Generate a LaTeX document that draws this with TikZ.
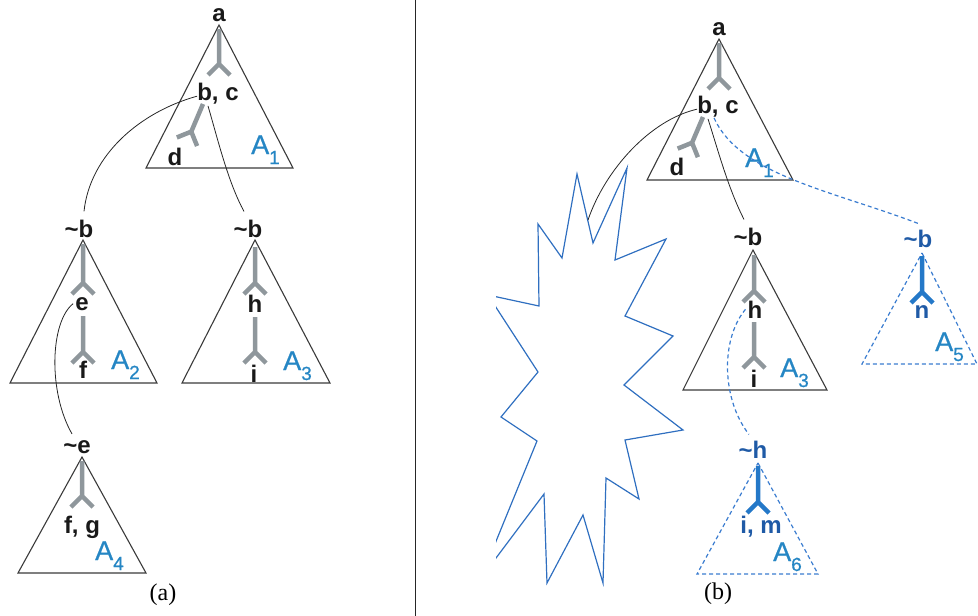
\documentclass[tikz,border=0pt]{standalone}
\usepackage{fontspec}
\setmainfont{Liberation Sans}
\newfontfamily\capfont{Liberation Serif}
\newfontfamily\afont[FakeBold=0.7]{Liberation Sans}
\definecolor{stemgray}{HTML}{8F979C}
\definecolor{alabel}{HTML}{2586C4}
\definecolor{dblue}{HTML}{1F5AA6}
\definecolor{sblue}{HTML}{2478C8}
\definecolor{dashblue}{HTML}{3A7CD0}
\definecolor{starblue}{HTML}{2F6FC0}
\definecolor{triline}{HTML}{3A3A3A}
\tikzset{
 tri/.style={draw=triline, line width=1.1pt, line join=miter},
 dtri/.style={draw=dashblue, line width=1.2pt, dash pattern=on 4pt off 3pt},
 stemline/.style={draw=stemgray, line width=4.5pt},
 bstem/.style={draw=sblue, line width=4.5pt},
 lbl/.style={inner sep=0pt, anchor=base, font=\fontsize{24}{24}\selectfont\bfseries, text=black!90},
 blbl/.style={lbl, text=dblue},
 alab/.style={inner sep=0pt, anchor=base west, text=alabel, font=\afont\fontsize{27}{27}\selectfont},
 conn/.style={draw=black!85, line width=0.8pt},
 dconn/.style={draw=dashblue, line width=1.2pt, dash pattern=on 4pt off 3pt},
 starline/.style={draw=starblue, line width=1.2pt, line join=miter},
 capt/.style={inner sep=0pt, anchor=base, font=\capfont\fontsize{24}{24}\selectfont},
}
\newcommand\forkY[5]{%
 \draw[#4, rotate around={#5:(#1,#2)}] (#1,#2) -- (#1,#2+#3) (#1-11,#2+#3+11) -- (#1,#2+#3) -- (#1+11,#2+#3+11);
}
\newcommand\subA[1]{A\raisebox{-10pt}{\fontsize{19}{19}\selectfont #1}}
\begin{document}
\begin{tikzpicture}[x=1pt,y=-1pt]
\useasboundingbox (0,0) rectangle (978,616);
% divider
\draw[line width=0.8pt, black!85] (415,0) -- (415,616);

% ================= panel (a)
\draw[tri] (219,25) -- (293,168) -- (146,168) -- cycle;
\draw[tri] (83,240) -- (157,383) -- (10,383) -- cycle;
\draw[tri] (255,240) -- (330,383) -- (182,383) -- cycle;
\draw[tri] (82,457) -- (146,573) -- (18,573) -- cycle;

\forkY{219}{29}{35}{stemline}{0}
\forkY{203}{104}{30}{stemline}{-23}
\forkY{83}{244}{39}{stemline}{0}
\forkY{83}{316}{36}{stemline}{0}
\forkY{255}{247}{36}{stemline}{0}
\forkY{255}{317}{35}{stemline}{0}
\forkY{82}{461}{35}{stemline}{0}

\node[lbl] (a1) at (219,21) {a};
\node[lbl] (bc1) at (218,100) {b, c};
\node[lbl] (d1) at (175,165) {d};
\node[lbl] (tb2) at (79,237) {\textasciitilde b};
\node[lbl] (e2) at (82,310) {e};
\node[lbl] (f2) at (83,378) {f};
\node[lbl] (tb3) at (248,237) {\textasciitilde b};
\node[lbl] (h3) at (255,312) {h};
\node[lbl] (i3) at (254,382) {i};
\node[lbl] (te4) at (77,453) {\textasciitilde e};
\node[lbl] (fg4) at (82,533) {f, g};

\node[alab] (A1) at (251,154) {\subA{1}};
\node[alab] (A2) at (111,369) {\subA{2}};
\node[alab] (A3) at (283,370) {\subA{3}};
\node[alab] (A4) at (95,560) {\subA{4}};
\node[capt] (capa) at (163,600) {(a)};

\draw[conn] ([yshift=-3pt]bc1.west) .. controls (140,112) and (90,155) .. ([xshift=5pt,yshift=8pt]tb2.north);
\draw[conn] ([xshift=-10pt,yshift=-2pt]bc1.south) .. controls (218,140) and (228,182) .. ([xshift=-4pt,yshift=8pt]tb3.north);
\draw[conn] ([xshift=-2pt]e2.west) .. controls (50,322) and (48,392) .. ([xshift=-5pt,yshift=6pt]te4.north);

% ================= panel (b)
\draw[tri] (719,39) -- (793,180) -- (647,180) -- cycle;
\draw[tri] (753,250) -- (827,390) -- (683,390) -- cycle;
\draw[dtri] (922,253) -- (977,364) -- (862,364) -- cycle;
\draw[dtri] (758,463) -- (818,574) -- (697,574) -- cycle;

\forkY{719}{43}{35}{stemline}{0}
\forkY{703}{117}{28}{stemline}{-23}
\forkY{754}{255}{36}{stemline}{0}
\forkY{754}{322}{35}{stemline}{0}
\forkY{922}{256}{36}{bstem}{0}
\forkY{758}{466}{36}{bstem}{0}

\node[lbl] (a1b) at (719,35) {a};
\node[lbl] (bc1b) at (718,113) {b, c};
\node[lbl] (d1b) at (677,175) {d};
\node[lbl] (tb3b) at (748,245) {\textasciitilde b};
\node[lbl] (h3b) at (755,318) {h};
\node[lbl] (i3b) at (754,387) {i};
\node[blbl] (tb5) at (918,247) {\textasciitilde b};
\node[blbl] (n5) at (922,318) {n};
\node[blbl] (th6) at (753,458) {\textasciitilde h};
\node[blbl] (im6) at (761,533) {i, m};

\node[alab] (A1b) at (745,167) {\subA{1}};
\node[alab] (A3b) at (780,377) {\subA{3}};
\node[alab] (A5) at (935,351) {\subA{5}};
\node[alab] (A6) at (773,561) {\subA{6}};
\node[capt] (capb) at (718,599) {(b)};

% star
\begin{scope}
\clip (496,0) rectangle (978,616);
\draw[starline] (577,174) -- (593,243) -- (627,168) -- (615,260) -- (666,239) -- (625,316)
 -- (673,336) -- (624,385) -- (683,430) -- (625,440) -- (639,499) -- (606,478)
 -- (603,583) -- (583,515) -- (547,583) -- (544,494) -- (481,578) -- (537,441)
 -- (501,417) -- (538,372) -- (488,295) -- (539,306) -- (538,224) -- (562,258) -- cycle;
\end{scope}
\coordinate (starhit) at (588,220);

\draw[conn] ([yshift=-3pt]bc1b.west) .. controls (650,120) and (605,170) .. (starhit);
\draw[conn] ([xshift=-10pt,yshift=-2pt]bc1b.south) .. controls (718,150) and (728,188) .. ([xshift=-4pt,yshift=8pt]tb3b.north);
\draw[dconn] ([xshift=-4pt,yshift=-1pt]bc1b.south) .. controls (740,175) and (830,190) .. ([yshift=6pt]tb5.north);
\draw[dconn] ([xshift=-2pt]h3b.west) .. controls (720,340) and (722,400) .. ([xshift=-4pt,yshift=6pt]th6.north);
\end{tikzpicture}
\end{document}
